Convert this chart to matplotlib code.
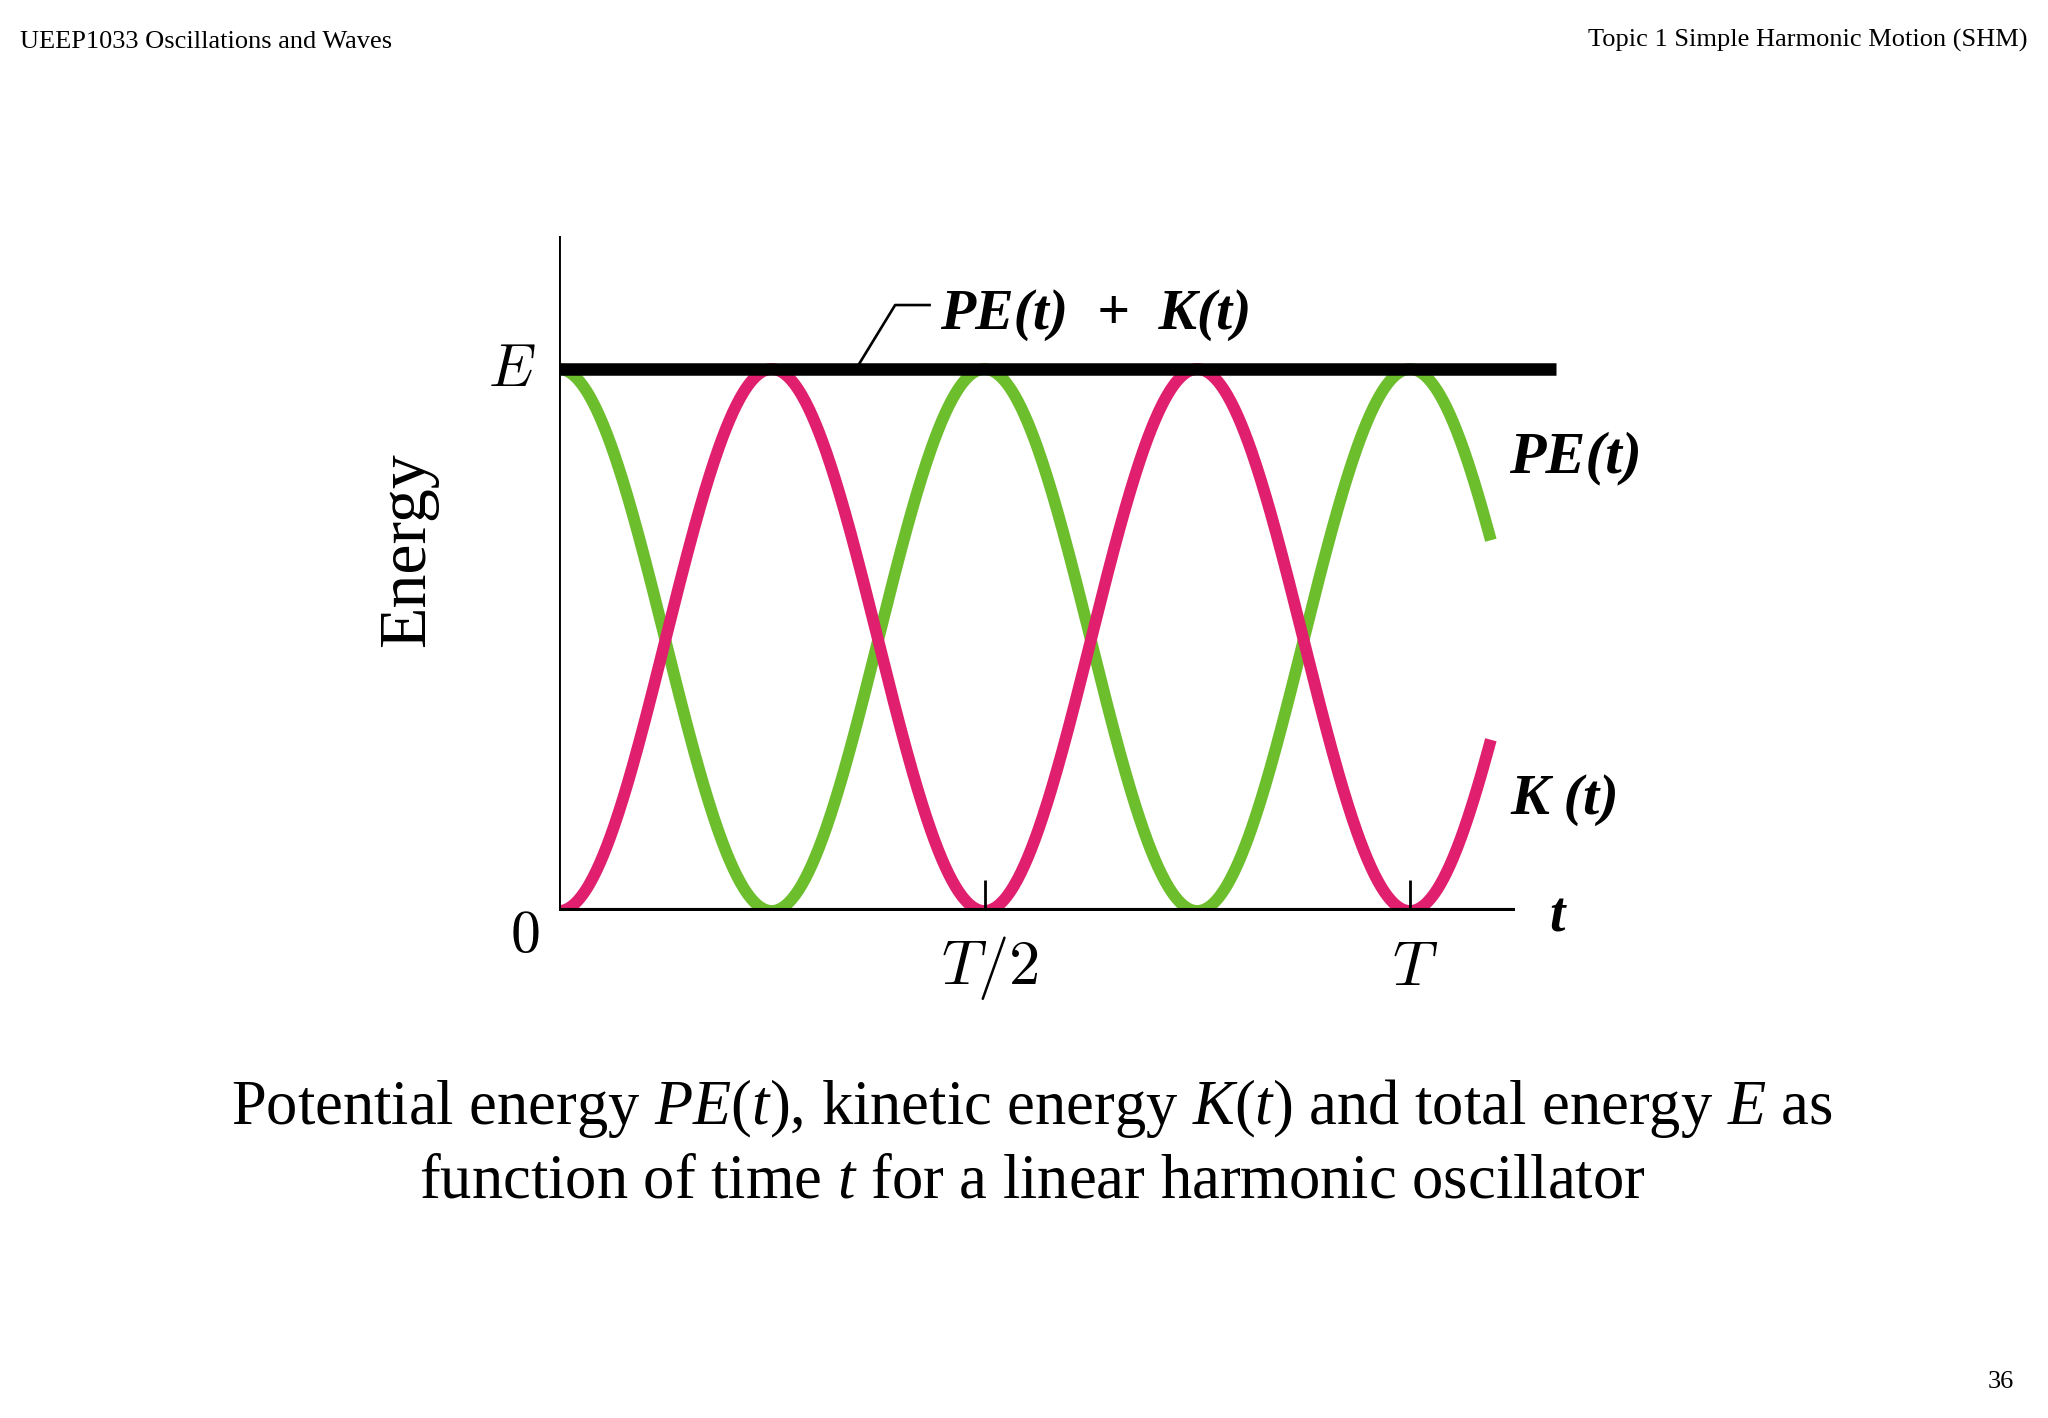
import numpy as np
import matplotlib
matplotlib.use("Agg")
import matplotlib.pyplot as plt

plt.rcParams['mathtext.fontset'] = 'custom'
plt.rcParams['mathtext.rm'] = 'Liberation Serif'
plt.rcParams['mathtext.it'] = 'Liberation Serif:italic'
plt.rcParams['mathtext.bf'] = 'Liberation Serif:bold'

# ---- data ----
E_total = 1.0          # total energy E
period = 1.0           # period T
t_end = 1.095          # curves drawn up to ~1.1 T
tick_positions = [0.5, 1.0]
tick_labels = [r'$T/2$', r'$T$']
series_names = ['PE(t)', 'K(t)', 'PE(t) + K(t)']
series_colors = ['#6DBE2D', '#E0206E', '#000000']

t = np.linspace(0, t_end, 800)
pe = E_total * np.cos(2 * np.pi * t / period) ** 2
ke = E_total * np.sin(2 * np.pi * t / period) ** 2

W, H = 2048, 1418
fig = plt.figure(figsize=(W / 100, H / 100), dpi=100)
fig.patch.set_facecolor('white')

px_T = 851.0      # pixels per period
px_E = 542.0      # pixels per E
x0, y0 = 559.0, 911.0
xmax, ymax = 1.30, 1.35
ax = fig.add_axes([x0 / W, (H - y0) / H, xmax * px_T / W, ymax * px_E / H])
ax.set_xlim(0, xmax)
ax.set_ylim(0, ymax)
ax.axis('off')

# axes lines
ax.plot([0, 0], [0, 1.245], color='black', lw=2.8, solid_capstyle='butt', zorder=4)
ax.plot([0, 1.123], [0, 0], color='black', lw=4.4, solid_capstyle='butt', zorder=4)
for tp in tick_positions:
    ax.plot([tp, tp], [0, 0.058], color='black', lw=2.0, solid_capstyle='butt', zorder=4)

# curves
ax.plot(t, pe, color=series_colors[0], lw=8.5, solid_capstyle='butt', zorder=2)
ax.plot(t, ke, color=series_colors[1], lw=8.5, solid_capstyle='butt', zorder=3)
ax.plot([0, 1.172], [E_total, E_total], color=series_colors[2], lw=9.0,
        solid_capstyle='butt', zorder=5)

# leader line
ax.plot([0.349, 0.395, 0.437], [1.0, 1.118, 1.118], color='black', lw=1.9,
        solid_capstyle='butt', zorder=5)

lab_font = dict(family='Liberation Serif', fontstyle='italic', fontweight='bold')
ax.text(0.448, 1.10, 'PE(t)  +  K(t)', fontsize=41.5, ha='left', va='center',
        clip_on=False, **lab_font)
ax.text(1.116, 0.835, 'PE(t)', fontsize=43, ha='left', va='center',
        clip_on=False, **lab_font)
ax.text(1.118, 0.205, 'K (t)', fontsize=42, ha='left', va='center',
        clip_on=False, **lab_font)
ax.text(1.173, -0.012, 't', fontsize=40, ha='center', va='center',
        clip_on=False, **lab_font)

ax.text(-0.055, 1.0, r'$E$', fontsize=43, ha='center', va='center',
        math_fontfamily='cm', clip_on=False)
ax.text(-0.04, -0.045, r'$0$', fontsize=43, ha='center', va='center',
        math_fontfamily='cm', clip_on=False)
for tp, tl in zip(tick_positions, tick_labels):
    ax.text(tp + 0.006, -0.105, tl, fontsize=45, ha='center', va='center',
            math_fontfamily='cm', clip_on=False)
ax.text(-0.178, 0.667, 'Energy', fontsize=49, rotation=90, ha='center',
        va='center', family='Liberation Serif', clip_on=False)

# header / footer
fig.text(20 / W, 1 - 42 / H, 'UEEP1033 Oscillations and Waves', fontsize=19,
         family='Liberation Serif', ha='left', va='center')
fig.text(2028 / W, 1 - 40 / H, 'Topic 1 Simple Harmonic Motion (SHM)', fontsize=19,
         family='Liberation Serif', ha='right', va='center')
fig.text(2001 / W, 1 - 1382 / H, '36', fontsize=19,
         family='Liberation Serif', ha='center', va='center')

# caption
cap1 = r'Potential energy $PE$($t$), kinetic energy $K$($t$) and total energy $E$ as'
cap2 = r'function of time $t$ for a linear harmonic oscillator'
fig.text(1032 / W, 1 - 1108 / H, cap1, fontsize=45, family='Liberation Serif',
         ha='center', va='center')
fig.text(1032 / W, 1 - 1183 / H, cap2, fontsize=45, family='Liberation Serif',
         ha='center', va='center')

fig.savefig('out.png', dpi=100, facecolor='white')
